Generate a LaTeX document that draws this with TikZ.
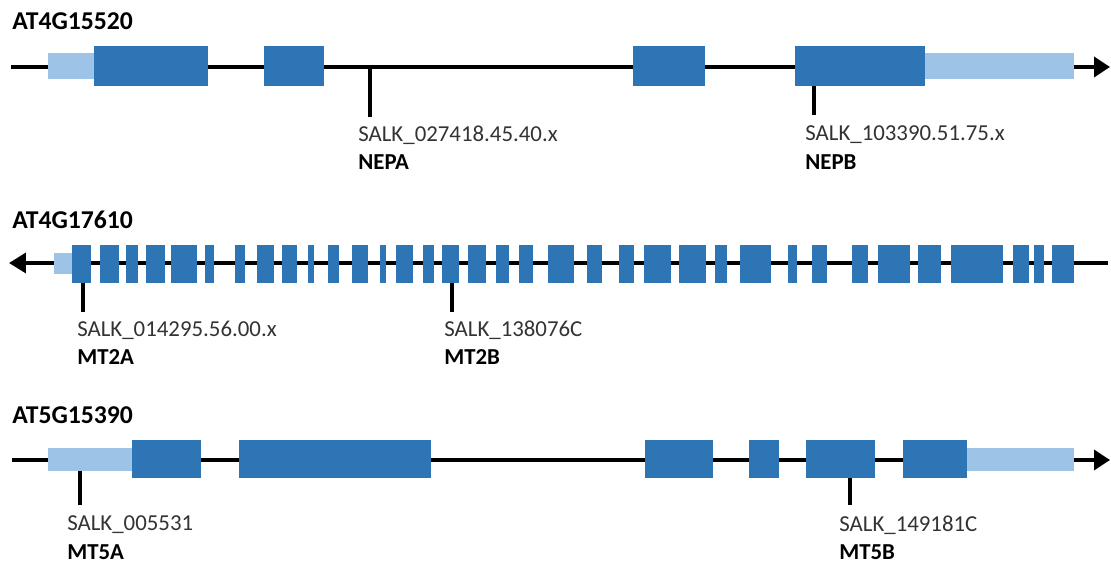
\documentclass[tikz,border=0pt]{standalone}
\usepackage{fontspec}
\setmainfont{Carlito}
\usetikzlibrary{arrows.meta}
\definecolor{exonblue}{HTML}{2E75B6}
\definecolor{utrblue}{HTML}{9DC3E6}

\begin{document}
\begin{tikzpicture}[
  x=0.02cm, y=-0.02cm,
  every node/.style={inner sep=0pt, anchor=west, font=\fontsize{13}{15}\selectfont},
  gene/.style={line width=2pt, black},
  fwd/.style={gene, -{Triangle[length=0.32cm, width=0.4cm]}},
  rev/.style={gene, {Triangle[length=0.34cm, width=0.4cm]}-},
  exon/.style={fill=exonblue},
  utr/.style={fill=utrblue},
  ins/.style={line width=2pt, black},
  title/.style={font=\fontsize{14.6}{17}\selectfont\bfseries},
  salk/.style={text=black!80},
  mutant/.style={font=\fontsize{13}{15}\selectfont\bfseries}
]
\useasboundingbox (0,0) rectangle (1111,563);

% ---- AT4G15520 ----
\node[title] (g1) at (12,21) {AT4G15520};
\coordinate (g1s) at (11,67);
\coordinate (g1e) at (1110,67);
\draw[fwd] (g1s) -- (g1e);
\coordinate (nepa-top) at (370,67);
\coordinate (nepa-bot) at (370,117);
\coordinate (nepb-top) at (814,67);
\coordinate (nepb-bot) at (814,115);
\draw[ins] (nepa-top) -- (nepa-bot);
\draw[ins] (nepb-top) -- (nepb-bot);
\fill[utr] (47.5,53) rectangle (94,79);
\fill[utr] (925,53) rectangle (1074,79);
\foreach \a/\b in {94/208, 264/324, 633/705, 795/925}
  \fill[exon] (\a,46) rectangle (\b,86);
\node[salk] (nepa-id) at (358,135) {SALK\_027418.45.40.x};
\node[mutant] (nepa) at (358,162) {NEPA};
\node[salk] (nepb-id) at (805,135) {SALK\_103390.51.75.x};
\node[mutant] (nepb) at (805,162) {NEPB};

% ---- AT4G17610 ----
\node[title] (g2) at (12,220) {AT4G17610};
\coordinate (g2s) at (9,263);
\coordinate (g2e) at (1108,263);
\draw[rev] (g2s) -- (g2e);
\coordinate (mt2a-top) at (83,263);
\coordinate (mt2a-bot) at (83,312);
\coordinate (mt2b-top) at (452,263);
\coordinate (mt2b-bot) at (452,312);
\draw[ins] (mt2a-top) -- (mt2a-bot);
\draw[ins] (mt2b-top) -- (mt2b-bot);
\fill[utr] (54,253) rectangle (72,274);
\foreach \a/\b in {72/91, 100/119, 126/138, 146/165, 171/197, 205/214,
    235/245, 257/274, 282/297, 308/314, 328/339, 352/368, 380/386,
    396/413, 423/434, 442/459, 468/486, 496/509, 519/533, 548/574,
    587/602, 619/634, 644/671, 679/706, 715/727, 740/771, 788/797,
    812/827, 852/868, 878/910, 918/941, 951/1003, 1013/1029,
    1034/1044, 1052/1074}
  \fill[exon] (\a,245) rectangle (\b,283);
\node[salk] (mt2a-id) at (77,330) {SALK\_014295.56.00.x};
\node[mutant] (mt2a) at (77,357) {MT2A};
\node[salk] (mt2b-id) at (444,330) {SALK\_138076C};
\node[mutant] (mt2b) at (444,357) {MT2B};

% ---- AT5G15390 ----
\node[title] (g3) at (12,415) {AT5G15390};
\coordinate (g3s) at (12,460);
\coordinate (g3e) at (1110,460);
\draw[fwd] (g3s) -- (g3e);
\coordinate (mt5a-top) at (80,460);
\coordinate (mt5a-bot) at (80,505);
\coordinate (mt5b-top) at (850,460);
\coordinate (mt5b-bot) at (850,505);
\draw[ins] (mt5a-top) -- (mt5a-bot);
\draw[ins] (mt5b-top) -- (mt5b-bot);
\fill[utr] (47.5,448) rectangle (132,471);
\fill[utr] (967,448) rectangle (1074,471);
\foreach \a/\b in {132/201, 239/431, 645/713, 749/779, 806/875, 903/967}
  \fill[exon] (\a,440) rectangle (\b,478);
\node[salk] (mt5a-id) at (67,525) {SALK\_005531};
\node[mutant] (mt5a) at (67,552) {MT5A};
\node[salk] (mt5b-id) at (839,525) {SALK\_149181C};
\node[mutant] (mt5b) at (839,552) {MT5B};
\end{tikzpicture}
\end{document}
